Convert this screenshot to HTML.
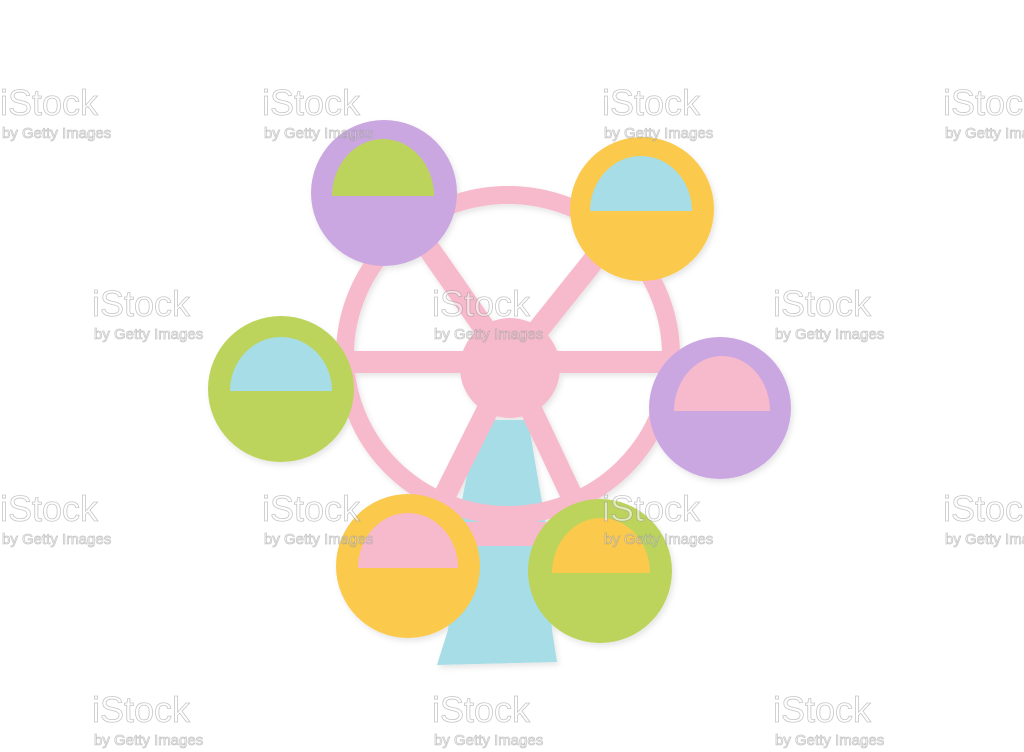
<!DOCTYPE html>
<html><head><meta charset="utf-8"><style>
html,body{margin:0;padding:0;background:#fff;}
svg{display:block;}
.wm{font-family:"Liberation Sans",sans-serif;fill:#fff;stroke:#999;stroke-width:0.8;opacity:0.55;}
</style></head><body>
<svg width="1024" height="752" viewBox="0 0 1024 752">
<defs>
<filter id="sh" x="-20%" y="-20%" width="140%" height="140%"><feDropShadow dx="2" dy="3" stdDeviation="3" flood-color="#000" flood-opacity="0.10"/></filter>
</defs>
<rect width="1024" height="752" fill="#ffffff"/>
<g filter="url(#sh)">
<path d="M478,420 L528,420 L545,520 L552,630 L557,662 L437,665 L448,630 L458,520 Z" fill="#a6dde6"/>
<ellipse cx="508" cy="355" rx="163" ry="160" fill="none" stroke="#f7b9cc" stroke-width="18"/>
<g stroke="#f7b9cc" stroke-width="22" stroke-linecap="butt">
<line x1="348" y1="362" x2="668" y2="362"/>
<line x1="510" y1="365" x2="395" y2="200"/>
<line x1="510" y1="365" x2="630" y2="215"/>
<line x1="510" y1="365" x2="420" y2="545"/>
<line x1="510" y1="365" x2="595" y2="545"/>
</g>
<rect x="462" y="522" width="85" height="24" fill="#f7b9cc"/>
<circle cx="510" cy="368" r="50" fill="#f7b9cc"/>
<g><circle cx="384" cy="193" r="73" fill="#caa7e1"/><path d="M332,196 A51,57 0 0 1 434,196 Z" fill="#bcd45c"/></g>
<g><circle cx="642" cy="209" r="72" fill="#fbc94c"/><path d="M590,211 A51,55 0 0 1 692,211 Z" fill="#a6dde6"/></g>
<g><circle cx="281" cy="389" r="73" fill="#bcd45c"/><path d="M230,391 A51,54 0 0 1 332,391 Z" fill="#a6dde6"/></g>
<g><circle cx="720" cy="408" r="71" fill="#caa7e1"/><path d="M674,411 A48,55 0 0 1 770,411 Z" fill="#f7b9cc"/></g>
<g><circle cx="408" cy="566" r="72" fill="#fbc94c"/><path d="M358,568 A50,55 0 0 1 458,568 Z" fill="#f7b9cc"/></g>
<g><circle cx="600" cy="571" r="72" fill="#bcd45c"/><path d="M552,573 A49,55 0 0 1 650,573 Z" fill="#fbc94c"/></g>
</g>
<g>
<g class="wm"><text x="0" y="115" font-size="36">iStock</text><text x="2" y="138" font-size="15">by Getty Images</text></g>
<g class="wm"><text x="262" y="115" font-size="36">iStock</text><text x="264" y="138" font-size="15">by Getty Images</text></g>
<g class="wm"><text x="602" y="115" font-size="36">iStock</text><text x="604" y="138" font-size="15">by Getty Images</text></g>
<g class="wm"><text x="943" y="115" font-size="36">iStock</text><text x="945" y="138" font-size="15">by Getty Images</text></g>
<g class="wm"><text x="92" y="316" font-size="36">iStock</text><text x="94" y="339" font-size="15">by Getty Images</text></g>
<g class="wm"><text x="432" y="316" font-size="36">iStock</text><text x="434" y="339" font-size="15">by Getty Images</text></g>
<g class="wm"><text x="773" y="316" font-size="36">iStock</text><text x="775" y="339" font-size="15">by Getty Images</text></g>
<g class="wm"><text x="0" y="521" font-size="36">iStock</text><text x="2" y="544" font-size="15">by Getty Images</text></g>
<g class="wm"><text x="262" y="521" font-size="36">iStock</text><text x="264" y="544" font-size="15">by Getty Images</text></g>
<g class="wm"><text x="602" y="521" font-size="36">iStock</text><text x="604" y="544" font-size="15">by Getty Images</text></g>
<g class="wm"><text x="943" y="521" font-size="36">iStock</text><text x="945" y="544" font-size="15">by Getty Images</text></g>
<g class="wm"><text x="92" y="722" font-size="36">iStock</text><text x="94" y="745" font-size="15">by Getty Images</text></g>
<g class="wm"><text x="432" y="722" font-size="36">iStock</text><text x="434" y="745" font-size="15">by Getty Images</text></g>
<g class="wm"><text x="773" y="722" font-size="36">iStock</text><text x="775" y="745" font-size="15">by Getty Images</text></g>
</g>
</svg>
</body></html>
